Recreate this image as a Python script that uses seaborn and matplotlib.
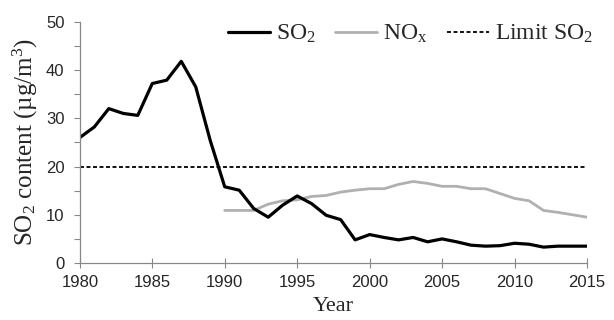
import numpy as np
import pandas as pd
import matplotlib
matplotlib.use("Agg")
import matplotlib.pyplot as plt
from matplotlib.ticker import MultipleLocator
import seaborn as sns

years_so2 = list(range(1980, 2016))
so2 = [26.0, 28.2, 32.0, 31.0, 30.6, 37.2, 37.9, 41.8, 36.5, 25.4,
       15.8, 15.1, 11.3, 9.5, 12.0, 13.9, 12.3, 9.9, 9.0, 4.8,
       5.9, 5.3, 4.8, 5.3, 4.4, 5.0, 4.4, 3.7, 3.5, 3.6,
       4.1, 3.9, 3.3, 3.5, 3.5, 3.5]
years_nox = list(range(1990, 2016))
nox = [10.9, 10.9, 10.9, 12.2, 12.9, 13.1, 13.8, 14.0, 14.7, 15.1,
       15.4, 15.4, 16.3, 16.9, 16.5, 15.9, 15.9, 15.4, 15.4, 14.4,
       13.4, 12.9, 10.9, 10.5, 10.0, 9.5]
limit_years = [1980, 2015]
limit_so2 = [20, 20]

sns.set_style("white")
plt.rcParams['font.family'] = ['Liberation Sans', 'DejaVu Sans']
plt.rcParams['mathtext.fontset'] = 'custom'
plt.rcParams['mathtext.rm'] = 'Liberation Serif'
plt.rcParams['mathtext.it'] = 'Liberation Serif'
plt.rcParams['mathtext.default'] = 'rm'

fig = plt.figure(figsize=(6.14, 3.2), dpi=100)
ax = fig.add_axes([0.130, 0.178, 0.826, 0.754])

df_so2 = pd.DataFrame({"Year": years_so2, "v": so2})
df_nox = pd.DataFrame({"Year": years_nox, "v": nox})
df_lim = pd.DataFrame({"Year": limit_years, "v": limit_so2})

sns.lineplot(data=df_lim, x="Year", y="v", ax=ax, color="black", lw=1.3,
             linestyle=(0, (2.2, 1.4)), label="Limit SO$_2$")
sns.lineplot(data=df_nox, x="Year", y="v", ax=ax, color="#b0b0b0", lw=2.0,
             label="NO$_x$")
sns.lineplot(data=df_so2, x="Year", y="v", ax=ax, color="black", lw=2.3,
             label="SO$_2$")

ax.set_xlim(1980, 2015)
ax.set_ylim(0, 50)
ax.xaxis.set_major_locator(MultipleLocator(5))
ax.xaxis.set_minor_locator(MultipleLocator(1))
ax.yaxis.set_major_locator(MultipleLocator(10))
ax.yaxis.set_minor_locator(MultipleLocator(5))
ax.tick_params(axis='x', which='major', direction='inout', length=7, width=0.8,
               color='#888888', labelsize=12, pad=5)
ax.tick_params(axis='x', which='minor', direction='in', length=3, width=0.8,
               color='#888888')
ax.tick_params(axis='y', which='both', direction='out', length=4, width=0.8,
               color='#888888', labelsize=12, pad=7)
ax.tick_params(axis='x', which='major', bottom=True)
ax.tick_params(axis='y', which='both', left=True)

for s in ['top', 'right']:
    ax.spines[s].set_visible(False)
for s in ['left', 'bottom']:
    ax.spines[s].set_color('#888888')
    ax.spines[s].set_linewidth(0.9)

serif = ['Liberation Serif', 'DejaVu Serif']
ax.set_xlabel("Year", family=serif, fontsize=16, labelpad=5)
ax.set_ylabel("SO$_2$ content (µg/m$^3$)", family=serif, fontsize=18, labelpad=4)

handles, labels = ax.get_legend_handles_labels()
ax.get_legend().remove()
order = [2, 1, 0]
leg = fig.legend([handles[i] for i in order], [labels[i] for i in order],
                 loc='center right', bbox_to_anchor=(0.966, 0.894), ncol=3,
                 frameon=False, prop={'family': serif, 'size': 17},
                 borderpad=0, borderaxespad=0,
                 handlelength=1.8, handletextpad=0.25, columnspacing=0.8)

fig.savefig("out.png", dpi=100)
